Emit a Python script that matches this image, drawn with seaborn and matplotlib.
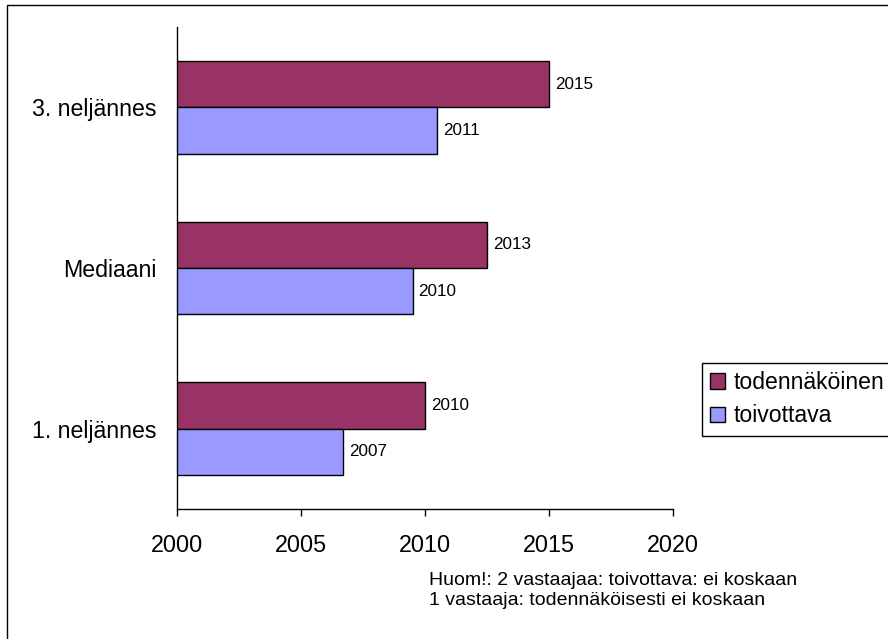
import numpy as np
import pandas as pd
import matplotlib
matplotlib.use("Agg")
import matplotlib.pyplot as plt
from matplotlib.patches import Patch, Rectangle
import seaborn as sns

# Data
categories = ["3. neljännes", "Mediaani", "1. neljännes"]
series = ["todennäköinen", "toivottava"]
todennakoinen = [2015.0, 2012.5, 2010.0]
toivottava = [2010.5, 2009.5, 2006.7]
x_ticks = [2000, 2005, 2010, 2015, 2020]
note_lines = ["Huom!: 2 vastaajaa: toivottava: ei koskaan",
              "1 vastaaja: todennäköisesti ei koskaan"]
colors = ["#993366", "#9999FF"]

df = pd.DataFrame({
    "kohta": categories * 2,
    "sarja": [series[0]] * 3 + [series[1]] * 3,
    "vuosi": todennakoinen + toivottava,
})

sns.set_style("white")
plt.rcParams["font.family"] = ["Liberation Sans", "DejaVu Sans"]
plt.rcParams["text.color"] = "black"
plt.rcParams["xtick.color"] = "black"
plt.rcParams["ytick.color"] = "black"
plt.rcParams["axes.labelcolor"] = "black"

fig = plt.figure(figsize=(8.88, 6.39), dpi=100)
ax = fig.add_axes([177 / 888, 1 - 509 / 639, 496 / 888, 482 / 639])

sns.barplot(data=df, x="vuosi", y="kohta", hue="sarja", order=categories,
            hue_order=series, palette=colors, orient="h", width=0.578,
            edgecolor="black", linewidth=1, saturation=1, errorbar=None,
            legend=False, ax=ax)

ax.set_xlim(2000, 2020)
ax.set_xticks(x_ticks)
ax.set_xlabel("")
ax.set_ylabel("")

# Category boundaries carry the y tick marks
ax.set_yticks([-0.5, 0.5, 1.5, 2.5], minor=True)
ax.tick_params(axis="y", which="major", length=0, pad=15, labelsize=16.7,
               labelcolor="black")
ax.tick_params(axis="y", which="minor", length=5, width=1, color="black",
               direction="out")
ax.tick_params(axis="x", which="major", length=5, width=1, color="black",
               direction="out", pad=13, labelsize=16.8, labelcolor="black")
ax.tick_params(left=True, bottom=True)

for side in ["top", "right"]:
    ax.spines[side].set_visible(False)
for side in ["left", "bottom"]:
    ax.spines[side].set_color("black")
    ax.spines[side].set_linewidth(1)

# Value labels, rounded to whole years
for cont in ax.containers:
    labels = [f"{int(np.floor(v + 0.5))}" for v in cont.datavalues]
    ax.bar_label(cont, labels=labels, padding=4.3, fontsize=12.3,
                 color="black")

handles = [Patch(facecolor=c, edgecolor="black", linewidth=1) for c in colors]
leg = fig.legend(handles, series, loc="upper left",
                 bbox_to_anchor=(702 / 888, 1 - 363 / 639),
                 borderaxespad=0, fontsize=16.6, frameon=True, fancybox=False,
                 edgecolor="black", framealpha=1, handlelength=0.65,
                 handleheight=0.65, handletextpad=0.35, borderpad=0.35,
                 labelspacing=0.45)
leg.get_frame().set_linewidth(1)

fig.text(429 / 888, 1 - 585 / 639, note_lines[0], fontsize=14,
         ha="left", va="baseline", color="black")
fig.text(429 / 888, 1 - 605 / 639, note_lines[1], fontsize=14,
         ha="left", va="baseline", color="black")

# Outer chart frame
fig.patches.append(Rectangle((7 / 888, -0.1), 1.2, 1.1 - 5 / 639,
                             transform=fig.transFigure, fill=False,
                             edgecolor="black", linewidth=1))

fig.savefig("out.png", dpi=100)
